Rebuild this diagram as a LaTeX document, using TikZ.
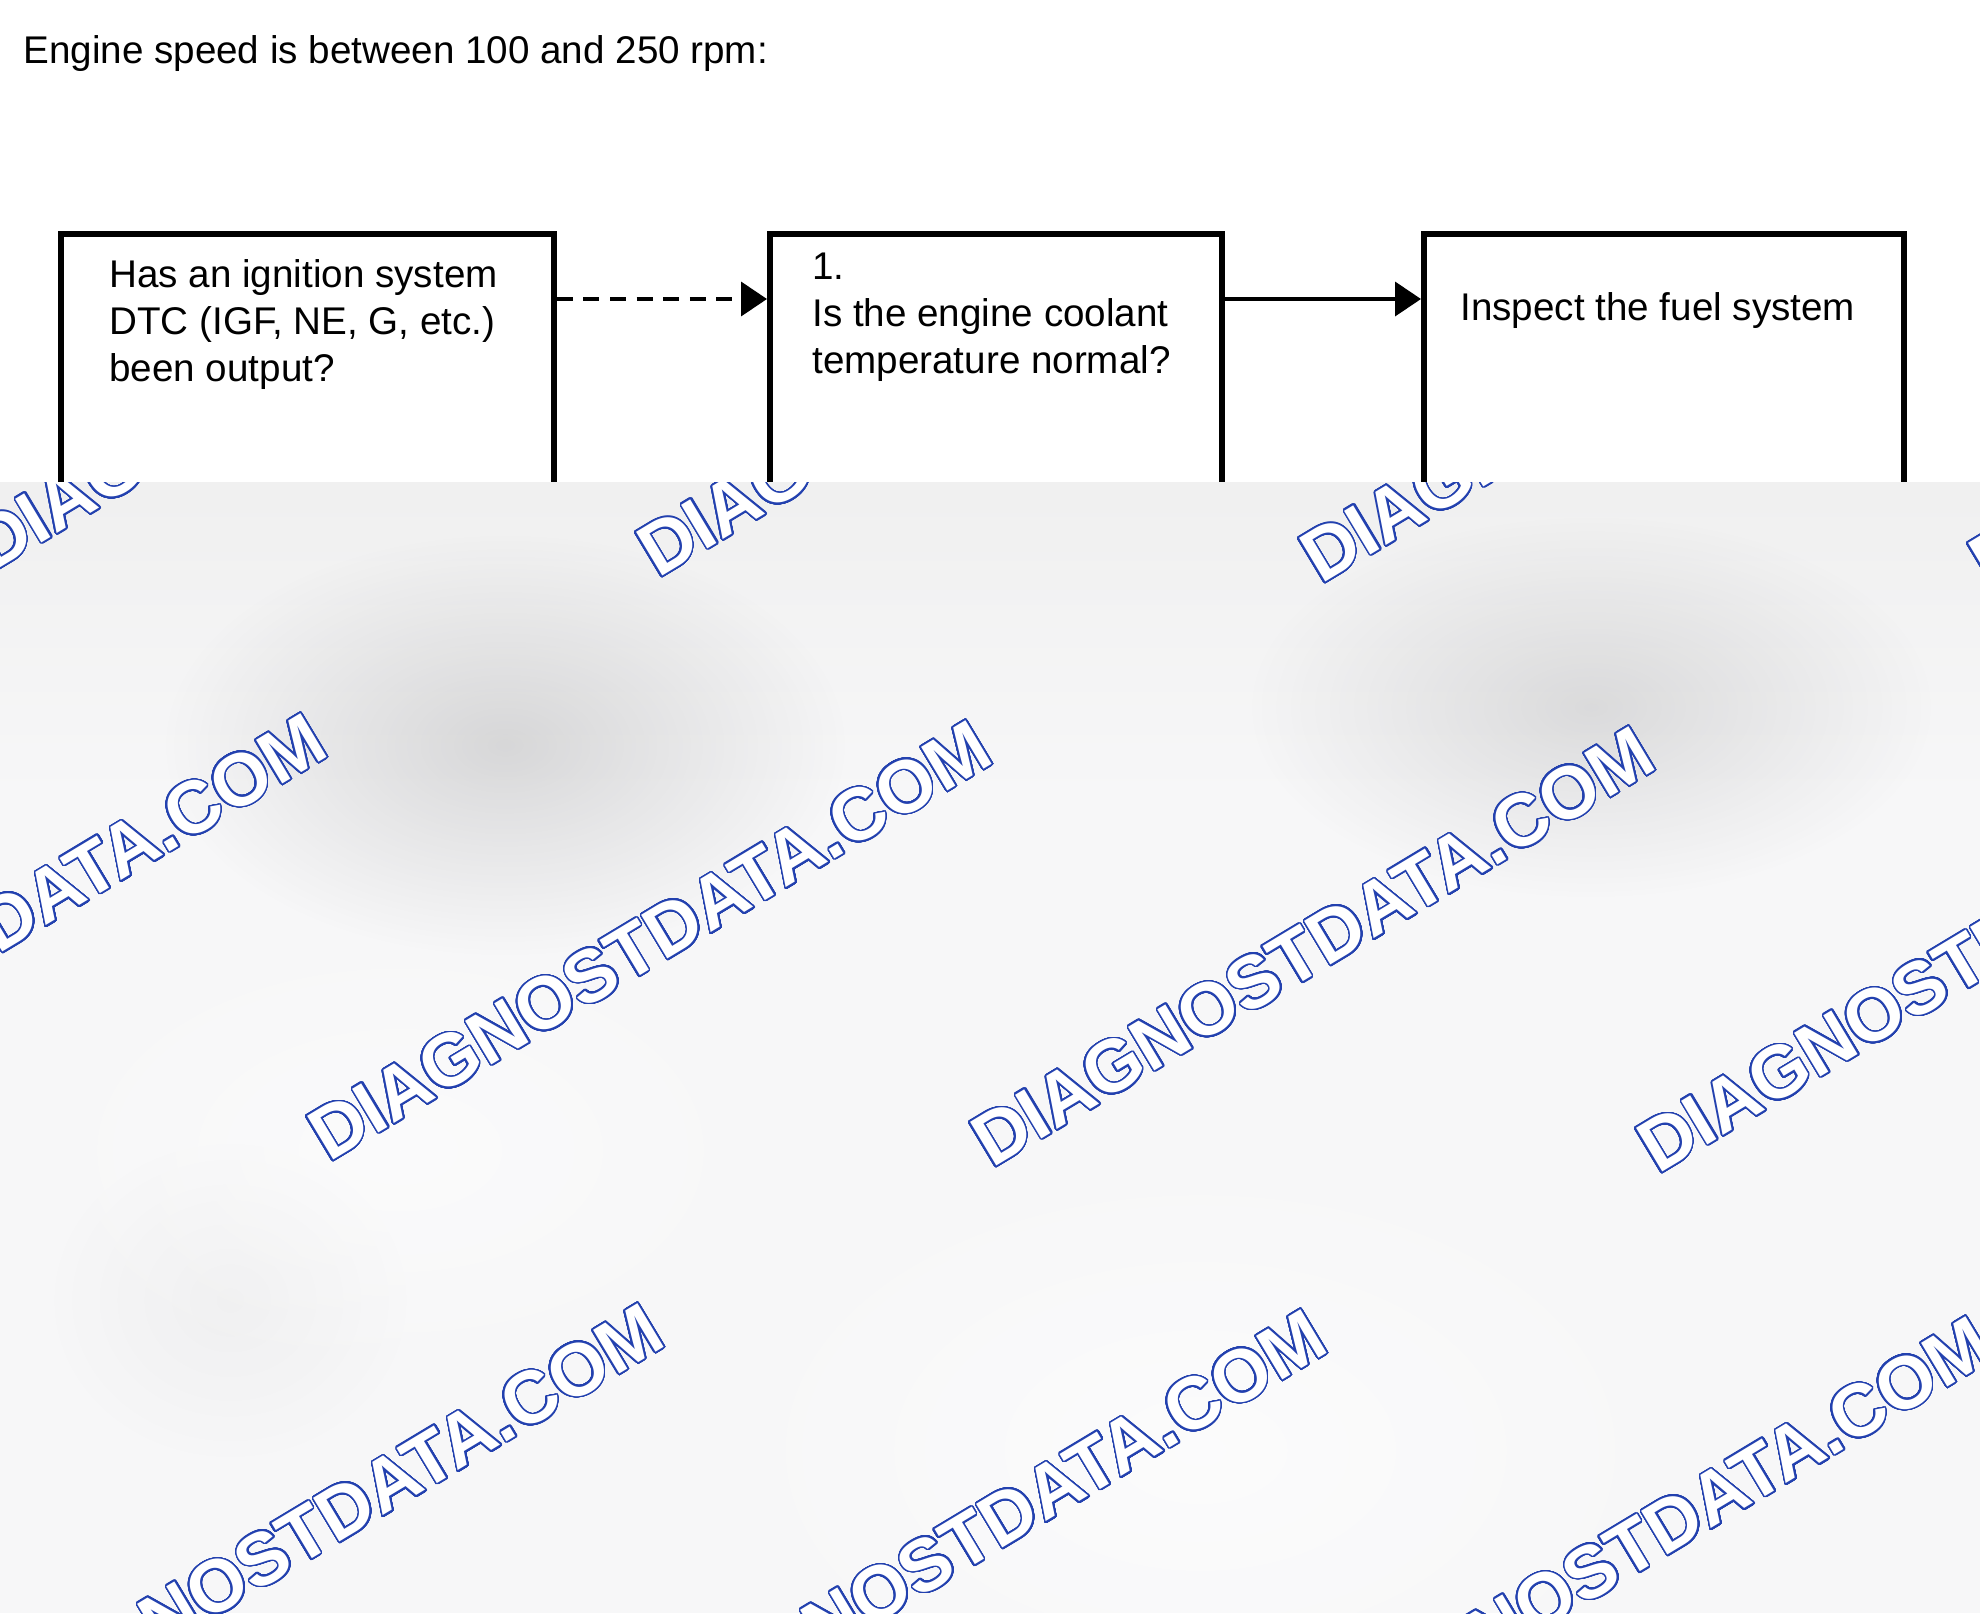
\documentclass[tikz,border=0pt]{standalone}
\usepackage{fontspec}
\setmainfont{Liberation Sans}
\usepackage{contour}
\usetikzlibrary{arrows.meta,fadings}
\definecolor{wmblue}{RGB}{35,65,175}
\definecolor{bgbase}{RGB}{247,247,248}
\definecolor{blobgray}{RGB}{150,150,152}
\contournumber{48}
\contourlength{0.8pt}
\tikzfading[name=softblob, inner color=transparent!0, outer color=transparent!100]
\begin{document}
\begin{tikzpicture}[x=0.5pt,y=-0.5pt,
  box/.style={draw=black,line width=2.9pt,minimum width=#1,minimum height=200pt,anchor=north west,inner sep=0pt},
  txt/.style={anchor=base west,align=left,inner sep=0pt,font=\fontsize{19.3}{23.5}\selectfont},
  conn/.style={line width=1.9pt,-{Triangle[length=13pt,width=17pt]}},
  wm/.style={rotate=31,inner sep=0pt,text=white,font=\fontsize{37}{37}\bfseries\selectfont}]
\useasboundingbox (0,0) rectangle (1980,1613);
\fill[white] (0,0) rectangle (1980,1613);
% title
\node[txt] (title) at (23,63) {Engine speed is between 100 and 250 rpm:};
% boxes
\node[box=246.5pt] (b1) at (58,231) {};
\node[box=226pt] (b2) at (767,231) {};
\node[box=240pt] (b3) at (1421,231) {};
\node[txt] (t1) at (109,381) {Has an ignition system\\DTC (IGF, NE, G, etc.)\\been output?};
\node[txt] (t2) at (812,373) {1.\\Is the engine coolant\\temperature normal?};
\node[txt] (t3) at (1460,320) {Inspect the fuel system};
% connectors
\draw[conn,dash pattern=on 8pt off 5.3pt] ([yshift=-34pt]b1.north east) -- ([yshift=-34pt]b2.north west);
\draw[conn] ([yshift=-34pt]b2.north east) -- ([yshift=-34pt]b3.north west);
% overlay region
\fill[bgbase] (0,482) rectangle (1980,1613);
\begin{scope}
\clip (0,482) rectangle (1980,1613);
\shade[top color=black!6,bottom color=bgbase] (0,482) rectangle (1980,800);
\fill[blobgray,fill opacity=0.32,path fading=softblob] (505,745) ellipse [x radius=170pt,y radius=105pt];
\fill[blobgray,fill opacity=0.28,path fading=softblob] (1591,707) ellipse [x radius=170pt,y radius=95pt];
\fill[blobgray,fill opacity=0.08,path fading=softblob] (230,1300) ellipse [x radius=90pt,y radius=80pt];
\fill[white,fill opacity=0.6,path fading=softblob] (1200,1450) ellipse [x radius=260pt,y radius=160pt];
\fill[white,fill opacity=0.5,path fading=softblob] (400,1150) ellipse [x radius=200pt,y radius=120pt];
\foreach \px/\py [count=\i] in {313/351,979/357,1642/363,2311/368,
   -15/934,650/941,1313/947,1979/953,
   322/1524,985/1530,1650/1537}
  \node[wm] (w\i) at (\px,\py) {\contour{wmblue}{DIAGNOSTDATA.COM}};
\end{scope}
\end{tikzpicture}
\end{document}
